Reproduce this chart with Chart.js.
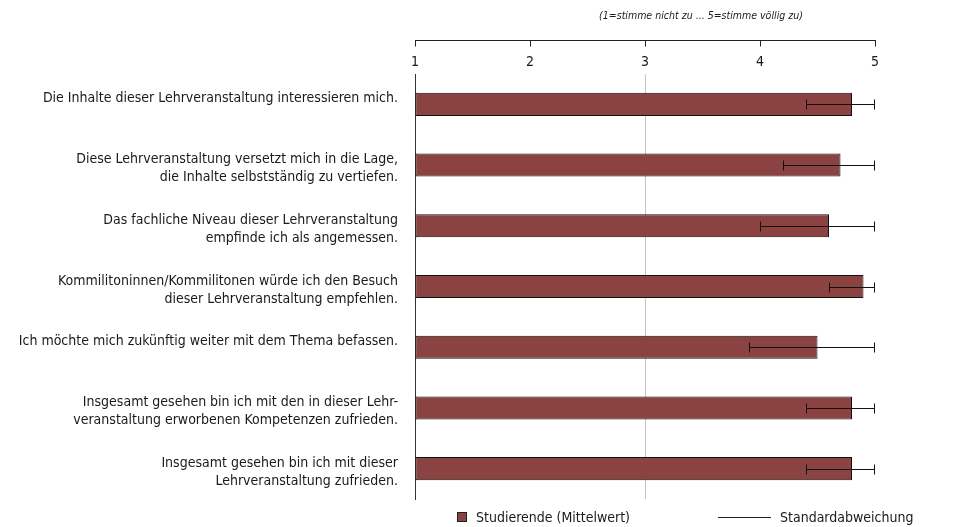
<!DOCTYPE html>
<html>
<head>
<meta charset="utf-8">
<script src="https://cdn.jsdelivr.net/npm/chart.js@4.4.1/dist/chart.umd.min.js"></script>
<style>
html,body{margin:0;padding:0;background:#fff;}
#wrap{width:979px;height:527px;position:relative;}
</style>
</head>
<body>
<div id="wrap"><canvas id="c" width="979" height="527"></canvas></div>
<script>
const categories = [
  ["Die Inhalte dieser Lehrveranstaltung interessieren mich.", ""],
  ["Diese Lehrveranstaltung versetzt mich in die Lage,", "die Inhalte selbstständig zu vertiefen."],
  ["Das fachliche Niveau dieser Lehrveranstaltung", "empfinde ich als angemessen."],
  ["Kommilitoninnen/Kommilitonen würde ich den Besuch", "dieser Lehrveranstaltung empfehlen."],
  ["Ich möchte mich zukünftig weiter mit dem Thema befassen.", ""],
  ["Insgesamt gesehen bin ich mit den in dieser Lehr-", "veranstaltung erworbenen Kompetenzen zufrieden."],
  ["Insgesamt gesehen bin ich mit dieser", "Lehrveranstaltung zufrieden."]
];
const meanValues = [4.8, 4.7, 4.6, 4.9, 4.5, 4.8, 4.8];
const sdValues = [0.4, 0.5, 0.6, 0.3, 0.6, 0.4, 0.4];
const scaleMin = 1, scaleMax = 5;
const scaleTitle = "(1=stimme nicht zu ... 5=stimme völlig zu)";
const legendLabels = ["Studierende (Mittelwert)", "Standardabweichung"];

const FONT = "'Liberation Sans Narrow', 'Arial Narrow', 'DejaVu Sans Condensed', sans-serif";
const BAR = '#8b4341';
const TXT = '#1a1a1a';

const extras = {
  id: 'extras',
  afterDatasetsDraw(chart) {
    const ctx = chart.ctx, x = chart.scales.x, y = chart.scales.y;
    ctx.save();
    ctx.strokeStyle = '#111';
    ctx.lineWidth = 1;
    meanValues.forEach((m, i) => {
      const lo = Math.max(scaleMin, m - sdValues[i]);
      const hi = Math.min(scaleMax, m + sdValues[i]);
      const x1 = Math.round(x.getPixelForValue(lo)) + 0.5;
      const x2 = Math.round(x.getPixelForValue(hi)) - 0.5;
      const yc = Math.round(y.getPixelForValue(i)) + 0.5;
      ctx.beginPath();
      ctx.moveTo(x1, yc); ctx.lineTo(x2, yc);
      ctx.moveTo(x1, yc - 5); ctx.lineTo(x1, yc + 5);
      ctx.moveTo(x2, yc - 5); ctx.lineTo(x2, yc + 5);
      ctx.stroke();
    });
    ctx.restore();
  },
  afterDraw(chart) {
    const ctx = chart.ctx, x = chart.scales.x;
    ctx.save();
    const top = x.top + 0.5;
    ctx.strokeStyle = '#222';
    ctx.lineWidth = 1;
    ctx.beginPath();
    ctx.moveTo(x.left, top); ctx.lineTo(x.right + 1, top);
    x.ticks.forEach(t => {
      const px = Math.round(x.getPixelForValue(t.value)) + 0.5;
      ctx.moveTo(px, top); ctx.lineTo(px, top + 6);
    });
    ctx.stroke();
    ctx.fillStyle = TXT;
    ctx.font = "italic 10.5px " + FONT;
    ctx.textAlign = 'center';
    ctx.textBaseline = 'middle';
    ctx.fillText(scaleTitle, 701, 16);
    ctx.font = "14px " + FONT;
    ctx.textAlign = 'left';
    const ly = 517;
    ctx.fillStyle = BAR;
    ctx.fillRect(457, ly - 5, 10, 10);
    ctx.strokeStyle = '#222';
    ctx.strokeRect(457.5, ly - 4.5, 9, 9);
    ctx.fillStyle = TXT;
    ctx.fillText(legendLabels[0], 476, ly + 1);
    ctx.beginPath();
    ctx.moveTo(718, ly + 0.5); ctx.lineTo(771, ly + 0.5);
    ctx.stroke();
    ctx.fillText(legendLabels[1], 780, ly + 1);
    ctx.restore();
  }
};

new Chart(document.getElementById('c'), {
  type: 'bar',
  data: {
    labels: categories,
    datasets: [{
      label: legendLabels[0],
      data: meanValues,
      backgroundColor: BAR,
      borderColor: '#111',
      borderWidth: 1,
      borderSkipped: false,
      barPercentage: 0.76,
      categoryPercentage: 0.5,
      base: scaleMin
    }]
  },
  options: {
    indexAxis: 'y',
    responsive: false,
    animation: false,
    devicePixelRatio: 1,
    layout: { padding: { left: 0, right: 104, top: 40, bottom: 28 } },
    plugins: { legend: { display: false }, tooltip: { enabled: false } },
    scales: {
      x: {
        position: 'top',
        min: scaleMin, max: scaleMax,
        afterFit(s) { s.height = 34; s.paddingLeft = 0; s.paddingRight = 0; },
        ticks: { stepSize: 1, padding: 3, color: TXT, font: { family: FONT, size: 14 } },
        border: { display: false },
        grid: {
          drawTicks: false,
          color: c => (c.tick && c.tick.value === 3) ? '#c4c4c4' : 'rgba(0,0,0,0)',
          lineWidth: 1
        }
      },
      y: {
        afterFit(s) { s.width = 415; s.paddingTop = 0; s.paddingBottom = 0; },
        ticks: { color: TXT, padding: 17, labelOffset: 3.5, font: { family: FONT, size: 14, lineHeight: 1.3 } },
        border: { display: true, color: '#333' },
        grid: { display: false, drawTicks: false }
      }
    }
  },
  plugins: [extras]
});
</script>
</body>
</html>
